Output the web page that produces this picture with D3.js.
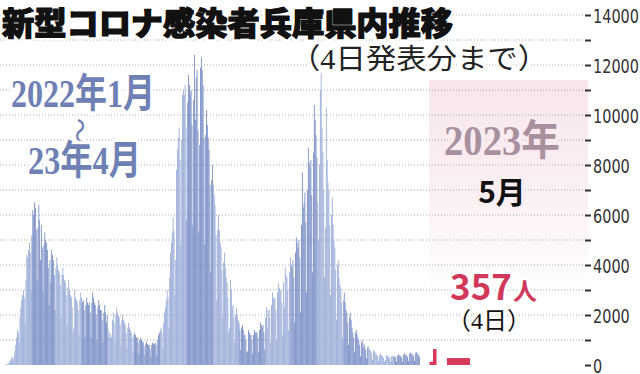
<!DOCTYPE html>
<html>
<head>
<meta charset="utf-8">
<script src="https://cdn.jsdelivr.net/npm/d3@7"></script>
<style>
  body { margin: 0; background: #fff; }
  svg { display: block; }
  .tick text { font-family: "Liberation Sans Narrow", "DejaVu Sans Condensed", "Liberation Sans", sans-serif; }
</style>
</head>
<body>
<div id="chart"></div>
<script>
// daily new cases in Hyogo, Jan 2022 - Apr 2023
const monthLabels = ["2022-01", "2022-02", "2022-03", "2022-04", "2022-05", "2022-06", "2022-07", "2022-08",
  "2022-09", "2022-10", "2022-11", "2022-12", "2023-01", "2023-02", "2023-03", "2023-04"];

const jan22 = [15, 20, 25, 45, 70, 120, 180, 300, 280, 200, 350, 550, 800, 1100, 1400, 1300, 900, 1900, 2300, 2600,
  2800, 3000, 2700, 1700, 3400, 4400, 4300, 4600, 4900, 4500, 3000];
const feb22 = [5200, 6200, 6000, 6500, 6300, 5400, 3400, 5500, 6400, 5800, 4200, 5600, 4700, 2900, 4800, 5300, 5000,
  4900, 4600, 3900, 2400, 4200, 3300, 4600, 4400, 4200, 3600, 2200];
const mar22 = [3900, 4300, 4000, 3800, 3700, 3200, 1900, 3600, 3900, 3600, 3400, 3300, 2800, 1600, 3100, 3400, 3000,
  2800, 2700, 2300, 1300, 1500, 3000, 2700, 2600, 2500, 2200, 1200, 2600, 2900, 2700];
const apr22 = [2500, 2600, 2200, 1100, 2400, 2700, 2500, 2400, 2500, 2100, 1100, 2500, 2900, 2700, 2500, 2400, 2000,
  1000, 2300, 2600, 2400, 2200, 2200, 1800, 900, 2100, 2400, 2100, 1700, 2000];
const may22 = [1400, 1100, 1300, 1200, 1100, 1800, 2100, 1700, 900, 2000, 2300, 2100, 2000, 1900, 1600, 800, 1800,
  2000, 1800, 1700, 1600, 1300, 700, 1500, 1700, 1500, 1400, 1300, 1100, 550, 1200];
const jun22 = [1300, 1200, 1100, 1100, 900, 450, 1000, 1100, 1000, 950, 900, 750, 380, 850, 950, 850, 800, 800, 650,
  330, 800, 900, 850, 850, 900, 800, 400, 1000, 1200, 1300];
const jul22 = [1400, 1500, 1300, 700, 1700, 2100, 2300, 2600, 3000, 2700, 1500, 3500, 4500, 4900, 5300, 5900, 5400,
  2800, 4200, 7800, 8600, 9100, 9500, 8200, 4800, 9000, 10800, 11000, 10800, 11200, 9500];
const aug22 = [5800, 10500, 11600, 11200, 10900, 11000, 9600, 5600, 10600, 12400, 9800, 11500, 11800, 9400, 5300,
  8800, 11900, 12300, 11800, 11200, 9100, 4800, 9200, 10200, 9600, 9100, 8600, 7200, 3700, 7400, 8000];
const sep22 = [7200, 6800, 6400, 5200, 2600, 5400, 6000, 5400, 4900, 4700, 3800, 1900, 4100, 4500, 3900, 3500, 3300,
  2700, 1300, 1500, 3400, 3000, 2300, 2400, 1900, 900, 2000, 2300, 2000, 1800];
const oct22 = [1700, 1400, 600, 1500, 1600, 1400, 1200, 1200, 1000, 500, 550, 1400, 1300, 1200, 1200, 1000, 450,
  1200, 1400, 1300, 1300, 1300, 1100, 500, 1400, 1700, 1600, 1500, 1600, 1300, 600];
const nov22 = [1900, 2300, 1500, 2200, 2200, 1900, 900, 2400, 2900, 2700, 2600, 2700, 2200, 1000, 2900, 3300, 3100,
  3000, 3000, 2500, 1200, 3300, 2300, 3900, 3600, 3500, 3000, 1400, 3700, 4300];
const dec22 = [4000, 3900, 4200, 3500, 1700, 4500, 5100, 4900, 4700, 5000, 4300, 2100, 5600, 7700, 6300, 6500, 6900,
  5700, 2900, 7000, 8700, 8100, 7900, 8200, 6800, 3700, 8500, 10400, 9800, 9200, 8300];
const jan23 = [6500, 5000, 8000, 11000, 12300, 9500, 8500, 7000, 3500, 5500, 10300, 8200, 7300, 7000, 5600, 2800,
  6000, 6700, 5600, 5000, 4700, 3800, 1800, 4000, 4200, 3500, 3200, 3100, 2500, 1100, 2600];
const feb23 = [2900, 2500, 2200, 2100, 1700, 800, 1900, 2100, 1800, 1500, 1300, 1100, 500, 1300, 1400, 1200, 1100,
  1000, 800, 350, 900, 1000, 700, 850, 750, 600, 280, 700];
const mar23 = [750, 650, 600, 550, 450, 200, 550, 600, 500, 450, 420, 350, 150, 400, 450, 400, 370, 350, 280, 130,
  200, 400, 380, 350, 330, 280, 120, 330, 380, 350, 340];
const apr23 = [350, 300, 130, 380, 430, 400, 370, 360, 300, 130, 400, 470, 430, 400, 390, 320, 150, 440, 500, 470,
  430, 420, 350, 160, 460, 520, 490, 450, 380, 330];

const monthlyCases = [jan22, feb22, mar22, apr22, may22, jun22, jul22, aug22, sep22, oct22, nov22, dec22,
  jan23, feb23, mar23, apr23];

// May 2023 (announced up to the 4th)
const mayDays = [1, 2];
const mayValues = [130, 640];
const latestDay = 4;
const latestValue = 357;

const yTicks = d3.range(0, 14001, 1000);

const width = 640;
const height = 374;

const days = [];
monthlyCases.forEach((arr, m) => {
  arr.forEach((v) => days.push({ i: days.length, month: m, value: v }));
});

const x = d3.scaleLinear().domain([0, days.length]).range([5, 420]);
const y = d3.scaleLinear().domain([0, 14000]).range([365, 15]);
const mayX = d3.scaleLinear().domain([1, 3]).range([429.5, 436.5]);

const svg = d3.select("#chart")
  .append("svg")
  .attr("width", width)
  .attr("height", height);

const defs = svg.append("defs");
const grad = defs.append("linearGradient")
  .attr("id", "pink")
  .attr("x1", 0).attr("y1", 0).attr("x2", 0).attr("y2", 1);
grad.append("stop").attr("offset", "0%").attr("stop-color", "#f7e5ea");
grad.append("stop").attr("offset", "55%").attr("stop-color", "#fbf1f3");
grad.append("stop").attr("offset", "100%").attr("stop-color", "#ffffff");

// May 2023 panel
svg.append("rect")
  .attr("x", 429)
  .attr("y", 80)
  .attr("width", 159)
  .attr("height", 220)
  .attr("fill", "url(#pink)");

// dotted gridlines
svg.append("g")
  .selectAll("line")
  .data(yTicks.filter((d) => d > 0))
  .join("line")
  .attr("x1", 0)
  .attr("x2", 585)
  .attr("y1", (d) => y(d))
  .attr("y2", (d) => y(d))
  .attr("stroke", "#a8a8a8")
  .attr("stroke-width", 1)
  .attr("stroke-dasharray", "1,2");

// daily bars, months in alternating shades
svg.append("g")
  .selectAll("rect")
  .data(days)
  .join("rect")
  .attr("x", (d) => x(d.i))
  .attr("width", (d) => x(d.i + 1) - x(d.i))
  .attr("y", (d) => y(d.value))
  .attr("height", (d) => y(0) - y(d.value))
  .attr("fill", (d) => (d.month % 2 === 0 ? "#9aacd8" : "#788dc6"));

// May bars
svg.append("g")
  .selectAll("rect")
  .data(mayDays)
  .join("rect")
  .attr("x", (d) => mayX(d))
  .attr("width", mayX(2) - mayX(1))
  .attr("y", (d, i) => y(mayValues[i]))
  .attr("height", (d, i) => y(0) - y(mayValues[i]))
  .attr("fill", "#d8385a");

svg.append("rect")
  .datum(latestDay)
  .attr("x", 447)
  .attr("width", 23)
  .attr("y", y(latestValue) + 2)
  .attr("height", y(0) - y(latestValue) - 2)
  .attr("fill", "#d8385a");

// right axis
const axis = svg.append("g")
  .attr("transform", "translate(585,0)")
  .call(
    d3.axisRight(y)
      .tickValues(yTicks)
      .tickSize(6)
      .tickPadding(2)
      .tickFormat((d) => (d % 2000 === 0 ? d : ""))
  );
axis.select(".domain").remove();
axis.selectAll(".tick line").attr("stroke", "#333").attr("stroke-width", 2);
axis.selectAll(".tick text")
  .attr("fill", "#333")
  .attr("font-size", 20)
  .attr("dy", "0.36em")
  .filter((d) => d % 2000 === 0)
  .attr("textLength", (d) => String(d).length * 9.2)
  .attr("lengthAdjust", "spacingAndGlyphs");

// texts
const sans = "'Noto Sans CJK JP', sans-serif";
const serif = "'Liberation Serif', 'DejaVu Serif', 'Noto Sans CJK JP', serif";

const label = (txt, opts) => {
  const t = svg.append("text")
    .attr("x", opts.x)
    .attr("y", opts.y)
    .attr("font-family", opts.font)
    .attr("font-size", opts.size)
    .attr("font-weight", opts.weight || "normal")
    .attr("fill", opts.color || "#111")
    .attr("text-anchor", opts.anchor || "start")
    .attr("stroke", opts.halo || "#fff")
    .attr("stroke-width", opts.haloWidth || 6)
    .attr("stroke-linejoin", "round")
    .attr("paint-order", "stroke")
    .text(txt);
  if (opts.len) t.attr("textLength", opts.len).attr("lengthAdjust", "spacingAndGlyphs");
  if (opts.sy) {
    t.attr("transform", `translate(${opts.x},${opts.y}) scale(1,${opts.sy})`).attr("x", 0).attr("y", 0);
  }
  return t;
};

// heavy title: white halo first, then text with a thin same-colour stroke
label("新型コロナ感染者兵庫県内推移", { x: 2, y: 35, font: sans, size: 32, weight: 900, len: 451, color: "#111" });
label("新型コロナ感染者兵庫県内推移", { x: 2, y: 35, font: sans, size: 32, weight: 900, len: 451, color: "#111",
  halo: "#111", haloWidth: 1.2 });
label("（4日発表分まで）", { x: 290, y: 69, font: serif, size: 26, len: 258, color: "#222", sy: 1.1 });

label("2022年1月", { x: 11, y: 107, font: serif, size: 34, weight: "bold", len: 144, color: "#6f81b4", sy: 1.18 });
label("～", { x: 0, y: 0, font: sans, size: 26, color: "#6f81b4", anchor: "middle" })
  .attr("transform", "translate(79,131) rotate(90)")
  .attr("dy", "0.35em");
label("23年4月", { x: 28, y: 174, font: serif, size: 34, weight: "bold", len: 113, color: "#6f81b4", sy: 1.18 });

label("2023年", { x: 444, y: 155, font: serif, size: 38, weight: "bold", len: 116, color: "#a8909f",
  halo: "#f9ebef", sy: 1.1 });
label("5月", { x: 502, y: 203, font: sans, size: 30, weight: "bold", color: "#111", anchor: "middle", halo: "#faeef1" });

const redLabel = label("", { x: 450, y: 300, font: sans, size: 35, weight: "bold", color: "#d1385a", halo: "#fff" });
redLabel.append("tspan").text(latestValue);
redLabel.append("tspan").attr("font-size", 24).attr("dx", 1).text("人");
label(`（${latestDay}日）`, { x: 489, y: 329, font: serif, size: 24, color: "#111", anchor: "middle" });
</script>
</body>
</html>
